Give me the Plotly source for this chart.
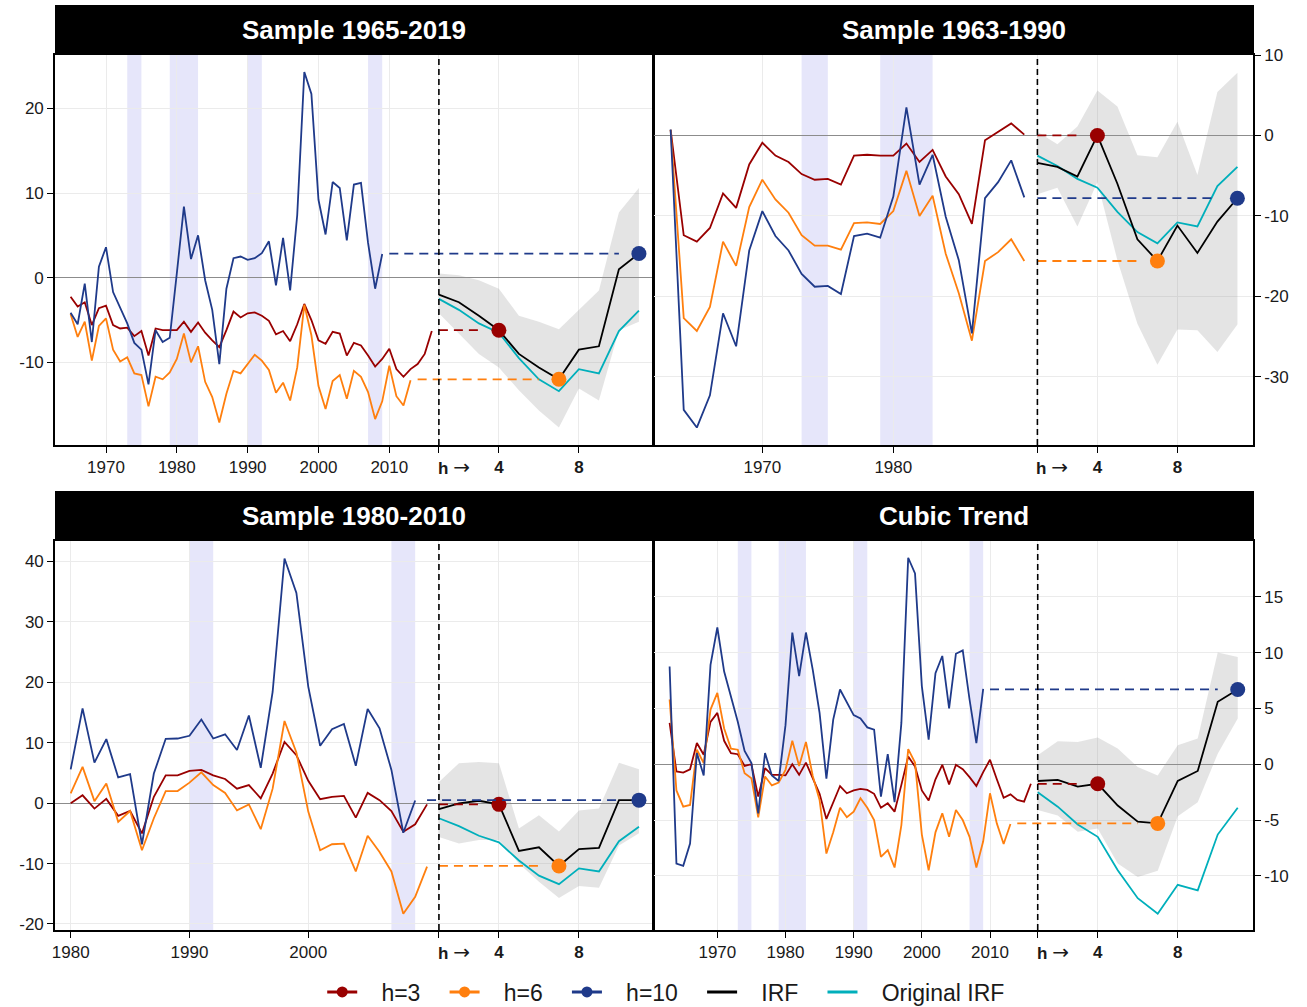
import plotly.graph_objects as go

# ---------------- data ----------------
H_IDX = [1, 2, 3, 4, 5, 6, 7, 8, 9, 10, 11]
H_TICKS = [4, 8]
H_TICKTEXT = ["<b>4</b>", "<b>8</b>"]
H_LABEL = "<b>h</b> <span style='font-family:DejaVu Sans;font-size:20px'>\u2192</span>"
DOT_IDX = {"h=3": 4, "h=6": 7, "h=10": 11}

RECESSIONS = [(1973, 1975), (1979, 1983), (1990, 1992), (2007, 2009)]

ORIG_IRF = [-2.5, -3.8, -5.4, -6.5, -9.5, -12.0, -13.4, -10.8, -11.3, -6.3, -3.9]

# Panel 1: Sample 1965-2019
p1_title = "Sample 1965-2019"
p1_start = 1965
p1_h3 = [-2.25, -3.4, -2.9, -5.6, -3.6, -3.3, -5.6, -6.0, -5.9, -6.9, -6.3, -9.2, -6.0, -6.2, -6.2,
         -6.2, -5.2, -6.4, -5.3, -6.5, -7.4, -8.2, -6.2, -4.0, -4.7, -4.2, -4.1, -4.5, -5.1, -6.7,
         -6.3, -7.5, -5.5, -3.1, -5.0, -7.4, -7.8, -6.4, -6.6, -9.2, -7.7, -8.0, -9.2, -10.5, -9.6,
         -8.4, -10.8, -11.7, -10.8, -10.2, -9.0, -6.3]
p1_h6 = [-4.3, -7.0, -5.2, -9.8, -5.7, -4.8, -8.5, -9.9, -9.4, -11.3, -11.5, -15.2, -11.7, -12.0,
         -11.2, -9.6, -6.6, -10.0, -8.1, -12.3, -14.1, -17.1, -13.7, -11.0, -11.3, -10.2, -9.1,
         -9.8, -10.9, -13.6, -12.4, -14.5, -10.6, -3.2, -6.8, -12.8, -15.5, -12.2, -11.5, -14.3,
         -11.0, -11.7, -13.5, -16.7, -14.6, -10.4, -14.0, -15.1, -12.1]
p1_h10 = [-4.15, -5.5, -0.7, -7.6, 1.3, 3.6, -1.7, -3.6, -5.4, -7.7, -8.5, -12.6, -6.2, -7.6, -7.1,
          0.5, 8.4, 2.2, 5.0, -0.3, -3.8, -10.2, -1.3, 2.3, 2.5, 2.1, 2.3, 2.9, 4.3, -0.9, 4.7,
          -1.5, 7.4, 24.3, 21.7, 9.2, 5.1, 11.3, 10.6, 4.4, 11.0, 11.2, 4.1, -1.3, 2.8]
p1_irf = [-2.0, -2.9, -4.5, -6.2, -9.0, -10.6, -12.0, -8.5, -8.1, 1.0, 2.85]
p1_lo = [-4.2, -6.6, -9.0, -10.6, -13.3, -15.7, -17.7, -13.1, -14.5, -6.2, -5.2]
p1_hi = [0.5, 0.3, -0.3, -1.3, -4.5, -5.2, -6.1, -3.8, -1.5, 7.7, 10.6]
p1_year_ticks = [1970, 1980, 1990, 2000, 2010]
p1_value_ticks = [-10, 0, 10, 20]
p1_sample = (1965, 2019)

# Panel 2: Sample 1963-1990
p2_title = "Sample 1963-1990"
p2_start = 1963
p2_h3 = [0.7, -12.4, -13.2, -11.5, -7.2, -9.0, -3.6, -0.9, -2.5, -3.3, -4.8, -5.5, -5.4, -6.1,
         -2.5, -2.4, -2.5, -2.5, -1.0, -3.3, -1.8, -5.1, -7.3, -11.0, -0.6, 0.5, 1.5, 0.1]
p2_h6 = [0.7, -22.7, -24.3, -21.3, -13.2, -16.2, -8.9, -5.5, -7.95, -9.6, -12.4, -13.7, -13.7,
         -14.2, -10.9, -10.8, -11.0, -9.4, -4.4, -10.0, -7.5, -14.7, -19.6, -25.5, -15.6, -14.5,
         -12.9, -15.6]
p2_h10 = [0.75, -34.1, -36.3, -32.3, -22.1, -26.2, -14.3, -9.4, -12.5, -14.3, -17.2, -18.8, -18.7,
          -19.7, -12.5, -12.2, -12.7, -7.6, 3.5, -6.1, -2.4, -10.1, -15.5, -24.6, -7.8, -5.8,
          -3.1, -7.7]
p2_irf = [-3.4, -3.9, -5.1, 0.0, -6.0, -12.9, -15.6, -11.2, -14.6, -10.7, -7.8]
p2_lo = [-7.3, -6.5, -11.3, -5.8, -15.5, -23.4, -28.5, -24.1, -24.2, -26.9, -23.5]
p2_hi = [0.45, -1.1, 1.1, 5.6, 3.6, -2.45, -2.7, 1.7, -4.9, 5.4, 7.8]
p2_year_ticks = [1970, 1980]
p2_value_ticks = [-30, -20, -10, 0, 10]
p2_sample = (1963, 1990)

# Panel 3: Sample 1980-2010
p3_title = "Sample 1980-2010"
p3_start = 1980
p3_h3 = [0.0, 1.3, -0.9, 0.7, -2.1, -1.3, -5.0, 1.05, 4.6, 4.6, 5.35, 5.5, 4.6, 4.0, 2.4, 3.0,
         0.8, 4.9, 10.15, 7.95, 3.7, 0.66, 1.05, 1.2, -2.4, 1.7, 0.5, -1.3, -4.75, -3.5, -0.2]
p3_h6 = [1.6, 6.0, 0.33, 3.25, -3.1, -1.3, -7.8, -2.5, 2.0, 2.0, 3.4, 5.1, 3.0, 1.7, -1.2, -0.2,
         -4.3, 2.4, 13.6, 8.4, -1.4, -7.8, -6.8, -6.7, -11.3, -5.4, -8.1, -11.3, -18.3, -15.5,
         -10.5]
p3_h10 = [5.6, 15.7, 6.7, 10.6, 4.25, 4.8, -6.8, 4.9, 10.65, 10.7, 11.15, 13.85, 10.7, 11.4, 8.8,
          14.5, 5.85, 18.4, 40.5, 34.8, 19.3, 9.5, 12.25, 13.1, 6.2, 15.6, 12.4, 5.5, -4.9, 0.44]
p3_irf = [-1.0, -0.05, 0.4, -0.2, -7.9, -7.3, -10.4, -7.6, -7.4, 0.5, 0.5]
p3_lo = [-5.6, -6.7, -6.1, -6.1, -10.0, -13.0, -15.7, -13.7, -14.0, -7.0, -5.0]
p3_hi = [3.5, 6.6, 6.8, 6.6, -4.2, -2.0, -4.7, -1.2, -0.9, 6.7, 5.6]
p3_year_ticks = [1980, 1990, 2000]
p3_value_ticks = [-20, -10, 0, 10, 20, 30, 40]
p3_sample = (1980, 2010)

# Panel 4: Cubic Trend
p4_title = "Cubic Trend"
p4_start = 1963
p4_h3 = [3.7, -0.65, -0.75, -0.45, 1.9, 0.85, 3.8, 4.6, 2.1, 1.0, 0.9, -0.15, 0.0, -2.9, -0.35,
         -0.95, -0.95, -1.0, 0.0, -0.95, 0.15, -1.25, -2.65, -4.9, -3.35, -1.95, -2.6, -2.35,
         -2.2, -2.3, -2.65, -3.9, -3.5, -4.25, -1.85, 0.7, -0.2, -2.35, -3.25, -1.35, -0.05,
         -1.8, -0.05, -0.45, -1.15, -1.95, -0.7, 0.4, -1.35, -3.0, -2.7, -3.2, -3.35, -1.75]
p4_h6 = [5.8, -2.35, -3.8, -3.65, 1.3, 0.1, 4.9, 6.4, 3.2, 1.4, 1.3, -0.8, -1.25, -4.75, -1.1,
         -1.9, -1.65, -0.5, 2.1, -0.15, 2.0, -1.05, -3.2, -8.0, -6.1, -3.9, -4.75, -4.25, -3.05,
         -3.9, -5.0, -8.3, -7.7, -9.25, -5.45, 1.35, 0.15, -6.3, -9.5, -6.1, -4.4, -6.5, -4.1,
         -5.0, -6.5, -9.25, -6.9, -2.6, -5.3, -7.15, -5.35]
p4_h10 = [8.75, -8.9, -9.1, -7.1, 1.0, -1.0, 8.9, 12.25, 8.3, 6.1, 3.8, 1.2, 0.1, -4.4, 1.0, -1.0,
          -1.5, 3.5, 11.8, 7.9, 11.8, 8.45, 4.6, -1.3, 4.0, 6.7, 5.6, 4.4, 4.1, 3.3, 3.1, -2.9,
          0.9, -3.4, 3.7, 18.5, 17.1, 7.0, 2.2, 8.15, 9.7, 5.0, 9.9, 10.2, 5.8, 1.9, 6.75]
p4_irf = [-1.5, -1.4, -2.0, -1.75, -3.7, -5.15, -5.3, -1.5, -0.6, 5.6, 6.7]
p4_lo = [-4.1, -4.6, -6.05, -5.75, -8.9, -10.1, -9.55, -4.65, -3.4, 0.95, 4.1]
p4_hi = [0.8, 2.05, 2.0, 2.4, 1.4, -0.25, -1.0, 1.7, 2.3, 10.0, 9.6]
p4_year_ticks = [1970, 1980, 1990, 2000, 2010]
p4_value_ticks = [-10, -5, 0, 5, 10, 15]
p4_sample = (1963, 2016)

LEGEND_NAMES = ["h=3", "h=6", "h=10", "IRF", "Original IRF"]

# ---------------- styles / layout geometry ----------------
W, H = 1307, 1007
COL = {"h=3": "#990000", "h=6": "#FF7F0E", "h=10": "#1F3A8A"}
IRF_COL = "#000000"
ORIG_COL = "#00AFBB"
FONT = "Liberation Sans, Arial, sans-serif"
NB = "\u00a0"

panels = [
    dict(title=p1_title, start=p1_start, series={"h=3": p1_h3, "h=6": p1_h6, "h=10": p1_h10},
         irf=p1_irf, lo=p1_lo, hi=p1_hi, yticks=p1_year_ticks, vticks=p1_value_ticks,
         sample=p1_sample, box=(55, 653, 55, 445), xr=(1962.8, 2047.23), x0=2017.0, step=2.824,
         yr=(-19.76, 26.3), side="left"),
    dict(title=p2_title, start=p2_start, series={"h=3": p2_h3, "h=6": p2_h6, "h=10": p2_h10},
         irf=p2_irf, lo=p2_lo, hi=p2_hi, yticks=p2_year_ticks, vticks=p2_value_ticks,
         sample=p2_sample, box=(654, 1253, 55, 445), xr=(1961.73, 2007.46), x0=1991.0, step=1.527,
         yr=(-38.47, 10.0), side="right"),
    dict(title=p3_title, start=p3_start, series={"h=3": p3_h3, "h=6": p3_h6, "h=10": p3_h10},
         irf=p3_irf, lo=p3_lo, hi=p3_hi, yticks=p3_year_ticks, vticks=p3_value_ticks,
         sample=p3_sample, box=(55, 653, 541, 930), xr=(1978.68, 2029.02), x0=2011.0, step=1.684,
         yr=(-21.0, 43.4), side="left"),
    dict(title=p4_title, start=p4_start, series={"h=3": p4_h3, "h=6": p4_h6, "h=10": p4_h10},
         irf=p4_irf, lo=p4_lo, hi=p4_hi, yticks=p4_year_ticks, vticks=p4_value_ticks,
         sample=p4_sample, box=(654, 1253, 541, 930), xr=(1960.71, 2048.58), x0=2017.0, step=2.934,
         yr=(-14.85, 20.0), side="right"),
]

fig = go.Figure()
shapes = []
annotations = []
layout_axes = {}

for i, P in enumerate(panels, start=1):
    xa = "x" if i == 1 else f"x{i}"
    ya = "y" if i == 1 else f"y{i}"
    x0, step = P["x0"], P["step"]
    hx = [x0 + (k - 1) * step for k in H_IDX]

    # recession shading within sample
    for (a, b) in RECESSIONS:
        if a >= P["sample"][0] and b <= P["sample"][1]:
            shapes.append(dict(type="rect", xref=xa, yref=f"{ya} domain", x0=a, x1=b, y0=0, y1=1,
                               fillcolor="#E6E6FA", line=dict(width=0), layer="below"))

    # confidence band
    fig.add_trace(go.Scatter(x=hx, y=P["lo"], xaxis=xa, yaxis=ya, mode="lines",
                             line=dict(width=0, color="rgba(0,0,0,0)"), showlegend=False,
                             hoverinfo="skip"))
    fig.add_trace(go.Scatter(x=hx, y=P["hi"], xaxis=xa, yaxis=ya, mode="lines", fill="tonexty",
                             fillcolor="rgba(150,150,150,0.26)",
                             line=dict(width=0, color="rgba(0,0,0,0)"), showlegend=False,
                             hoverinfo="skip"))

    # h-series
    for name, vals in P["series"].items():
        yrs = [P["start"] + k for k in range(len(vals))]
        fig.add_trace(go.Scatter(x=yrs, y=vals, xaxis=xa, yaxis=ya, mode="lines",
                                 line=dict(color=COL[name], width=1.8), showlegend=False))

    # IRFs
    fig.add_trace(go.Scatter(x=hx, y=ORIG_IRF, xaxis=xa, yaxis=ya, mode="lines",
                             line=dict(color=ORIG_COL, width=1.8), showlegend=False))
    fig.add_trace(go.Scatter(x=hx, y=P["irf"], xaxis=xa, yaxis=ya, mode="lines",
                             line=dict(color=IRF_COL, width=1.8), showlegend=False))

    # dashed connectors and dots
    for name, vals in P["series"].items():
        idx = DOT_IDX[name]
        val = P["irf"][idx - 1]
        last_year = P["start"] + len(vals) - 1
        fig.add_trace(go.Scatter(x=[last_year + 1, x0 + (idx - 2) * step], y=[val, val],
                                 xaxis=xa, yaxis=ya, mode="lines",
                                 line=dict(color=COL[name], width=1.8, dash="9px,6px"),
                                 showlegend=False))
        fig.add_trace(go.Scatter(x=[x0 + (idx - 1) * step], y=[val], xaxis=xa, yaxis=ya,
                                 mode="markers", marker=dict(color=COL[name], size=15),
                                 showlegend=False))

    # vertical dashed separator
    shapes.append(dict(type="line", xref=xa, yref=f"{ya} domain", x0=x0, x1=x0, y0=0, y1=1,
                       line=dict(color="black", width=1.6, dash="6px,4px"), layer="above"))

    L, R, T, B = P["box"]
    # title bar
    shapes.append(dict(type="rect", xref="paper", yref="paper", x0=L / W, x1=(R + 1) / W,
                       y0=1 - T / H, y1=1 - (T - 50) / H, fillcolor="black",
                       line=dict(width=0), layer="above"))
    annotations.append(dict(text=f"<b>{P['title']}</b>", xref="paper", yref="paper",
                            x=(L + R) / 2 / W, y=1 - (T - 25) / H, showarrow=False,
                            font=dict(size=26, color="white", family=FONT),
                            xanchor="center", yanchor="middle"))
    # "h ->" label at the start of the horizon section
    annotations.append(dict(text=H_LABEL, xref=xa, yref="paper", x=x0, xshift=-3,
                            y=1 - (B + 22) / H, showarrow=False, xanchor="left",
                            yanchor="middle", font=dict(size=17, color="#1a1a1a", family=FONT)))

    tickvals = list(P["yticks"]) + [x0] + [x0 + (k - 1) * step for k in H_TICKS]
    ticktext = [str(v) for v in P["yticks"]] + [""] + H_TICKTEXT
    axis_common = dict(showline=True, linecolor="black", linewidth=1.6, mirror=True,
                       ticks="outside", ticklen=6, tickwidth=1.4, tickcolor="black",
                       showgrid=True, gridcolor="#EBEBEB", gridwidth=1,
                       tickfont=dict(size=17, color="#1a1a1a", family=FONT))
    layout_axes["xaxis" if i == 1 else f"xaxis{i}"] = dict(
        domain=[L / W, R / W], range=list(P["xr"]), anchor=ya, tickmode="array",
        tickvals=tickvals, ticktext=ticktext, zeroline=False, **axis_common)
    layout_axes["yaxis" if i == 1 else f"yaxis{i}"] = dict(
        domain=[1 - B / H, 1 - T / H], range=list(P["yr"]), anchor=xa, side=P["side"],
        tickmode="array", tickvals=P["vticks"], ticktext=[str(v) for v in P["vticks"]],
        zeroline=True, zerolinecolor="#8C8C8C", zerolinewidth=1, **axis_common)

# legend entries
LEG_COLORS = [COL["h=3"], COL["h=6"], COL["h=10"], IRF_COL, ORIG_COL]
for k, name in enumerate(LEGEND_NAMES):
    mode = "lines+markers" if k < 3 else "lines"
    fig.add_trace(go.Scatter(x=[None], y=[None], mode=mode, name=NB * 3 + name + NB * 3,
                             line=dict(color=LEG_COLORS[k], width=3),
                             marker=dict(color=LEG_COLORS[k], size=11)))

fig.update_layout(
    width=W, height=H, margin=dict(l=0, r=0, t=0, b=0, autoexpand=False),
    paper_bgcolor="white", plot_bgcolor="white",
    font=dict(family=FONT, color="#1a1a1a"),
    shapes=shapes, annotations=annotations,
    legend=dict(orientation="h", x=0.517, xanchor="center", y=1 - 992 / H, yanchor="middle",
                font=dict(size=23, family=FONT), traceorder="normal",
                bgcolor="rgba(0,0,0,0)"),
    hovermode=False,
    **layout_axes,
)

fig.write_html("out.html", config={"displayModeBar": False},
               post_script="document.body.style.margin='0px';")
